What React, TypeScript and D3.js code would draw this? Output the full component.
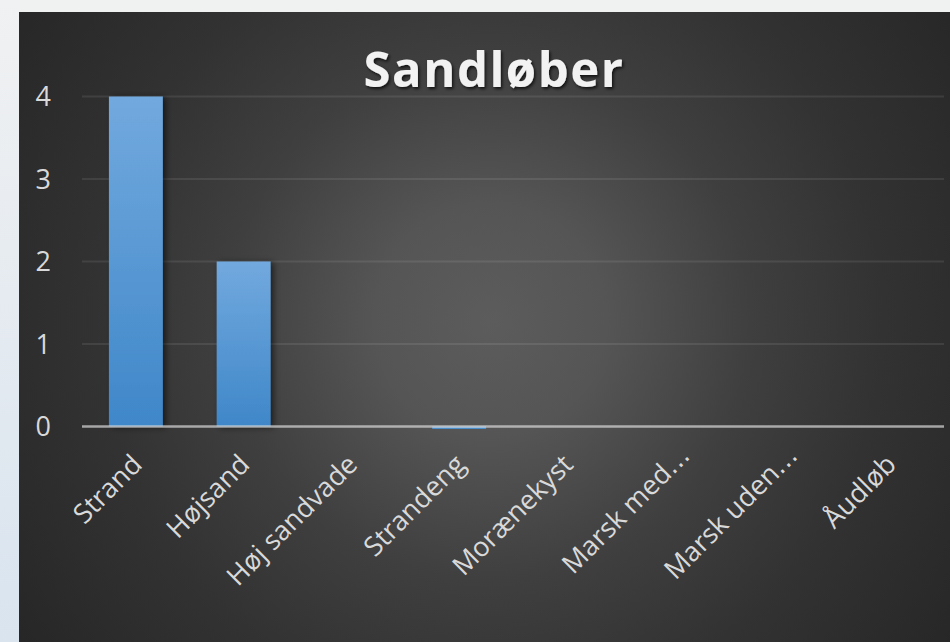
import React from "react";
import * as d3 from "d3";

const categories = ["Strand", "Højsand", "Høj sandvade", "Strandeng", "Morænekyst", "Marsk med…", "Marsk uden…", "Åudløb"];
const values = [4, 2, 0, -0.03, 0, 0, 0, 0];
const yTicks = [0, 1, 2, 3, 4];
const title = "Sandløber";

const W = 950;
const H = 642;
const plot = { left: 82, right: 944, top: 96.5, bottom: 426.5 };

export default function App() {
  const x = d3.scaleBand<string>().domain(categories).range([plot.left, plot.right]).paddingInner(0.5).paddingOuter(0.25);
  const y = d3.scaleLinear().domain([0, 4]).range([plot.bottom, plot.top]);
  const font = "'Open Sans', sans-serif";

  return (
    <svg width={W} height={H} style={{ position: "absolute", left: 0, top: 0 }}>
      <defs>
        <linearGradient id="side" x1="0" y1="0" x2="0" y2="1">
          <stop offset="0" stopColor="#f0f1f2" />
          <stop offset="1" stopColor="#d9e4ef" />
        </linearGradient>
        <radialGradient id="bg" gradientUnits="userSpaceOnUse" cx={490} cy={320} r={580}>
          <stop offset="0" stopColor="#5c5c5c" />
          <stop offset="0.2" stopColor="#555555" />
          <stop offset="0.45" stopColor="#3f3f3f" />
          <stop offset="0.68" stopColor="#323232" />
          <stop offset="1" stopColor="#262626" />
        </radialGradient>
        <linearGradient id="bar" x1="0" y1="0" x2="0" y2="1">
          <stop offset="0" stopColor="#72a9de" />
          <stop offset="1" stopColor="#3f87c9" />
        </linearGradient>
        <filter id="shadow" x="-30%" y="-10%" width="160%" height="120%">
          <feDropShadow dx="3" dy="1" stdDeviation="3" floodColor="#000" floodOpacity="0.55" />
        </filter>
        <filter id="tshadow" x="-10%" y="-30%" width="120%" height="160%">
          <feDropShadow dx="1.5" dy="2" stdDeviation="1.5" floodColor="#000" floodOpacity="0.7" />
        </filter>
      </defs>
      <rect x={0} y={0} width={W} height={H} fill="#f0f1f1" />
      <rect x={0} y={0} width={19} height={H} fill="url(#side)" />
      <rect x={19} y={12} width={W - 19} height={H - 12} fill="url(#bg)" />

      {yTicks.filter((t) => t !== 0).map((t) => (
        <line key={t} x1={plot.left} x2={plot.right} y1={y(t)} y2={y(t)} stroke="rgba(255,255,255,0.085)" strokeWidth={2} />
      ))}

      {categories.map((c, i) => {
        const v = values[i];
        const y0 = y(0);
        const y1 = y(v);
        return (
          <rect
            key={c}
            x={x(c)}
            y={Math.min(y0, y1)}
            width={x.bandwidth()}
            height={Math.abs(y1 - y0)}
            fill="url(#bar)"
            filter={v > 0 ? "url(#shadow)" : undefined}
          />
        );
      })}

      <line x1={plot.left} x2={plot.right} y1={y(0)} y2={y(0)} stroke="rgba(217,217,217,0.7)" strokeWidth={2.5} />

      {yTicks.map((t) => (
        <text key={t} x={51} y={y(t)} dy="0.36em" textAnchor="end" fill="#d9d9d9" fontFamily={font} fontSize={27}>
          {t}
        </text>
      ))}

      {categories.map((c) => {
        const cx = (x(c) as number) + x.bandwidth() / 2;
        const hasEll = c.endsWith("…");
        const base = hasEll ? c.slice(0, -1) : c;
        return (
          <text
            key={c}
            transform={`translate(${cx + 1},${y(0) + 33}) rotate(-45)`}
            textAnchor="end"
            x={hasEll ? 13 : 0}
            dy="0.35em"
            fill="#d9d9d9"
            fontFamily={font}
            fontSize={27}
          >
            {base}
            {hasEll && <tspan fontFamily="'DejaVu Sans', sans-serif" fontSize={26}>…</tspan>}
          </text>
        );
      })}

      <text x={494} y={87} textAnchor="middle" fill="#f2f2f2" fontFamily={font} fontWeight={700} fontSize={49} letterSpacing={1.5} filter="url(#tshadow)">
        {title}
      </text>
    </svg>
  );
}
